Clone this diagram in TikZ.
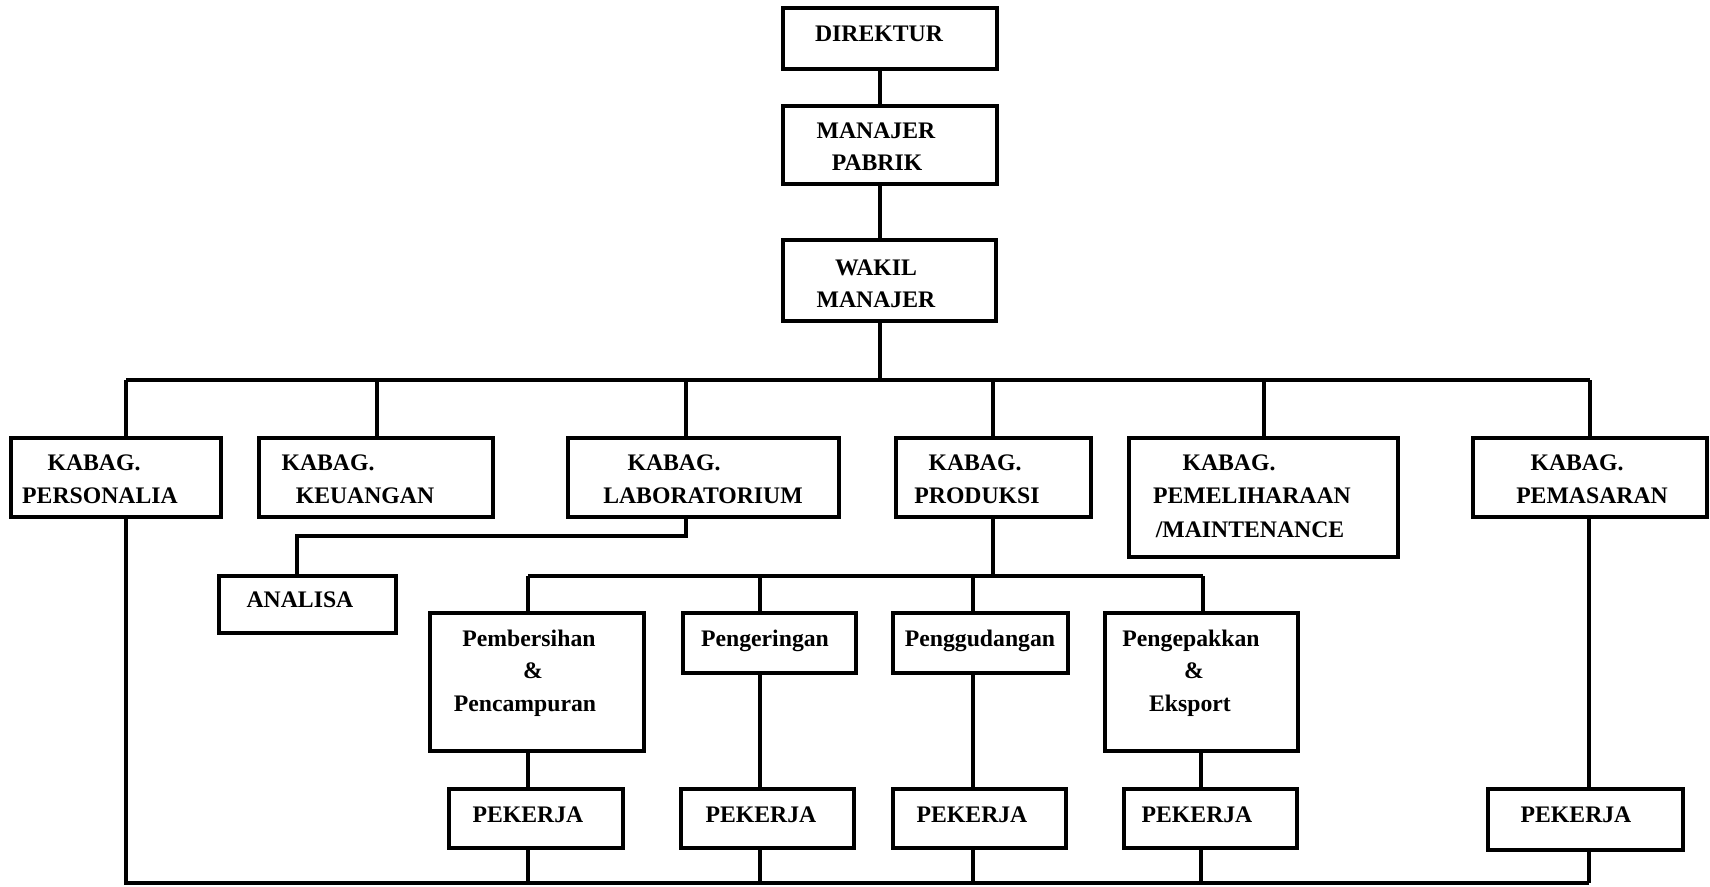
\documentclass[tikz,border=0pt]{standalone}
\usepackage{fontspec}
\setmainfont{Liberation Serif}
\usetikzlibrary{fit}
\begin{document}
\begin{tikzpicture}[x=0.02cm,y=-0.02cm,
  bx/.style={draw, line width=2.2pt, inner sep=0pt, fit={#1}},
  tx/.style={anchor=base, inner sep=0pt, font=\fontsize{13.5}{16}\selectfont\bfseries},
  ln/.style={line width=1.8pt}]
\useasboundingbox[fill=white] (0,0) rectangle (1710,886);
% ---- boxes
\node[bx={(783,8) (997,69)}] (dir) {};
\node[bx={(783,106) (997,184)}] (mp) {};
\node[bx={(783,240) (996,321)}] (wm) {};
\node[bx={(11,438) (221,517)}] (per) {};
\node[bx={(259,438) (493,517)}] (keu) {};
\node[bx={(568,438) (839,517)}] (lab) {};
\node[bx={(896,438) (1091,517)}] (prod) {};
\node[bx={(1129,438) (1398,557)}] (pem) {};
\node[bx={(1473,438) (1707,517)}] (pms) {};
\node[bx={(219,576) (396,633)}] (ana) {};
\node[bx={(430,613) (644,751)}] (pc) {};
\node[bx={(683,613) (856,673)}] (pg) {};
\node[bx={(893,613) (1068,673)}] (pd) {};
\node[bx={(1105,613) (1298,751)}] (pk) {};
\node[bx={(449,789) (623,848)}] (w1) {};
\node[bx={(681,789) (854,848)}] (w2) {};
\node[bx={(893,789) (1066,848)}] (w3) {};
\node[bx={(1124,789) (1297,848)}] (w4) {};
\node[bx={(1488,789) (1683,850)}] (w5) {};
% ---- texts
\node[tx] (dir-a) at (879,41) {DIREKTUR};
\node[tx] (mp-a) at (876,138) {MANAJER};
\node[tx] (mp-b) at (877,170) {PABRIK};
\node[tx] (wm-a) at (876,275) {WAKIL};
\node[tx] (wm-b) at (876,307) {MANAJER};
\node[tx] (per-a) at (94,470) {KABAG.};
\node[tx] (per-b) at (100,503) {PERSONALIA};
\node[tx] (keu-a) at (328,470) {KABAG.};
\node[tx] (keu-b) at (365,503) {KEUANGAN};
\node[tx] (lab-a) at (674,470) {KABAG.};
\node[tx] (lab-b) at (703,503) {LABORATORIUM};
\node[tx] (prod-a) at (975,470) {KABAG.};
\node[tx] (prod-b) at (977,503) {PRODUKSI};
\node[tx] (pem-a) at (1229,470) {KABAG.};
\node[tx] (pem-b) at (1252,503) {PEMELIHARAAN};
\node[tx] (pem-c) at (1250,537) {/MAINTENANCE};
\node[tx] (pms-a) at (1577,470) {KABAG.};
\node[tx] (pms-b) at (1592,503) {PEMASARAN};
\node[tx] (ana-a) at (300,607) {ANALISA};
\node[tx] (pc-a) at (529,646) {Pembersihan};
\node[tx] (pc-b) at (533,678) {\&};
\node[tx] (pc-c) at (525,711) {Pencampuran};
\node[tx] (pg-a) at (765,646) {Pengeringan};
\node[tx] (pd-a) at (980,646) {Penggudangan};
\node[tx] (pk-a) at (1191,646) {Pengepakkan};
\node[tx] (pk-b) at (1194,678) {\&};
\node[tx] (pk-c) at (1190,711) {Eksport};
\node[tx] (w1-a) at (528,822) {PEKERJA};
\node[tx] (w2-a) at (761,822) {PEKERJA};
\node[tx] (w3-a) at (972,822) {PEKERJA};
\node[tx] (w4-a) at (1197,822) {PEKERJA};
\node[tx] (w5-a) at (1576,822) {PEKERJA};
% ---- bus coordinates
\coordinate (top) at (880,380);
\coordinate (bL) at (126,380);
\coordinate (bK) at (377,380);
\coordinate (bLab) at (686,380);
\coordinate (bP) at (993,380);
\coordinate (bM) at (1264,380);
\coordinate (bR) at (1590,380);
\coordinate (labT) at (686,536);
\coordinate (anaT) at (297,536);
\coordinate (sP) at (993,576);
\coordinate (s1) at (528,576);
\coordinate (s2) at (760,576);
\coordinate (s3) at (973,576);
\coordinate (s4) at (1203,576);
\coordinate (botL) at (126,883);
\coordinate (botR) at (1589,883);
% ---- connectors
\draw[ln] (dir.south -| top) -- (mp.north -| top);
\draw[ln] (mp.south -| top) -- (wm.north -| top);
\draw[ln] (wm.south -| top) -- (top);
\draw[ln] (bL) -- (bR);
\draw[ln] (bL) -- (bL |- per.north);
\draw[ln] (bK) -- (bK |- keu.north);
\draw[ln] (bLab) -- (bLab |- lab.north);
\draw[ln] (bP) -- (bP |- prod.north);
\draw[ln] (bM) -- (bM |- pem.north);
\draw[ln] (bR) -- (bR |- pms.north);
\draw[ln] (labT |- lab.south) -- (labT) -- (anaT) -- (anaT |- ana.north);
\draw[ln] (sP |- prod.south) -- (sP);
\draw[ln] (s1) -- (s4);
\draw[ln] (s1) -- (s1 |- pc.north);
\draw[ln] (s2) -- (s2 |- pg.north);
\draw[ln] (s3) -- (s3 |- pd.north);
\draw[ln] (s4) -- (s4 |- pk.north);
\draw[ln] (s1 |- pc.south) -- (s1 |- w1.north);
\draw[ln] (s2 |- pg.south) -- (s2 |- w2.north);
\draw[ln] (s3 |- pd.south) -- (s3 |- w3.north);
\draw[ln] (1201,0 |- pk.south) -- (1201,0 |- w4.north);
\draw[ln] (botR |- pms.south) -- (botR |- w5.north);
\draw[ln] (bL |- per.south) -- (botL) -- (botR);
\draw[ln] (s1 |- w1.south) -- (s1 |- botL);
\draw[ln] (s2 |- w2.south) -- (s2 |- botL);
\draw[ln] (s3 |- w3.south) -- (s3 |- botL);
\draw[ln] (1201,0 |- w4.south) -- (1201,0 |- botL);
\draw[ln] (botR |- w5.south) -- (botR);
\end{tikzpicture}
\end{document}
